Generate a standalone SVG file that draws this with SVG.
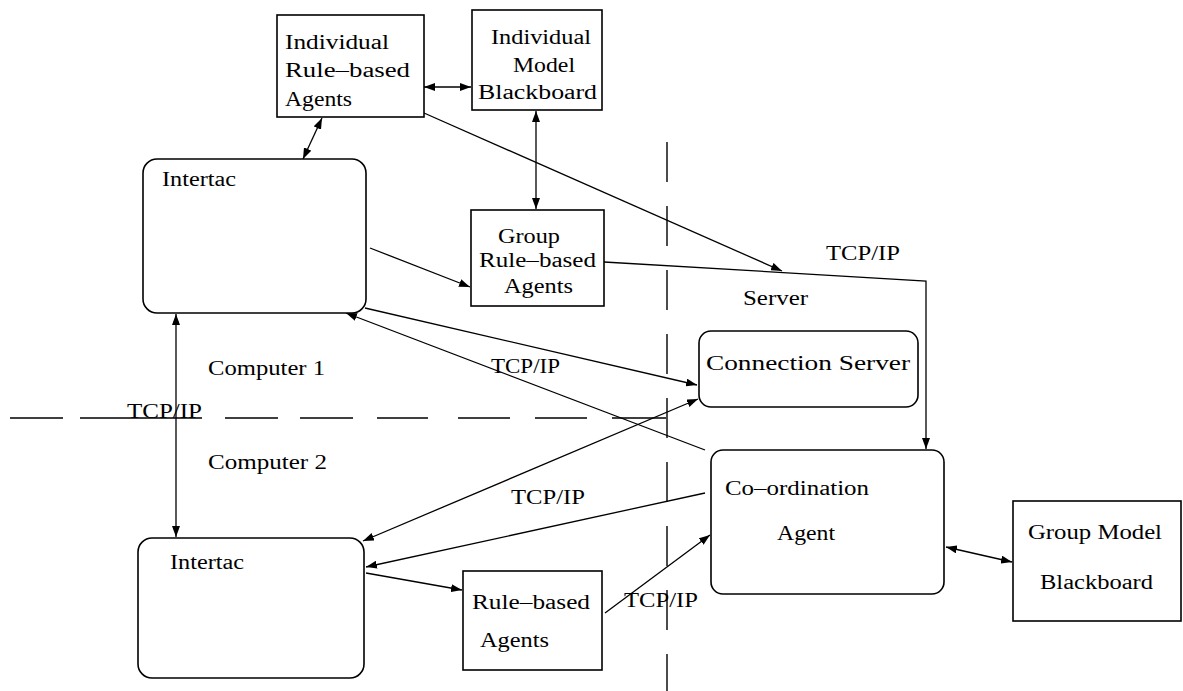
<svg xmlns="http://www.w3.org/2000/svg" width="1183" height="691" viewBox="0 0 1183 691">
<defs>
<marker id="ah" markerUnits="userSpaceOnUse" markerWidth="11" markerHeight="8" refX="11" refY="4" orient="auto-start-reverse">
<path d="M0,0 L11,4 L0,8 z" fill="#000"/>
</marker>
<style>
.box{fill:#fff;stroke:#000;stroke-width:1.6}
.ln{fill:none;stroke:#000;stroke-width:1.3}
.dash{fill:none;stroke:#000;stroke-width:1.4}
text{font-family:"Liberation Serif","Times New Roman",serif;font-size:20px;fill:#000}
</style>
</defs>
<rect width="1183" height="691" fill="#fff"/>

<g id="separators">
<line class="dash" x1="667" y1="142" x2="667" y2="691" stroke-dasharray="40 24"/>
<path class="dash" d="M10,418 H63 M80,418 H202 M225,418 H278 M300,418 H353 M377,418 H428 M458,418 H510 M535,418 H587 M612,418 H666"/>
</g>

<g id="connectors">
<line class="ln" x1="424" y1="87" x2="471" y2="87" marker-start="url(#ah)" marker-end="url(#ah)"/>
<line class="ln" x1="322" y1="118" x2="303" y2="159" marker-start="url(#ah)" marker-end="url(#ah)"/>
<line class="ln" x1="536" y1="111" x2="536" y2="209" marker-start="url(#ah)" marker-end="url(#ah)"/>
<line class="ln" x1="370" y1="248" x2="470" y2="287" marker-end="url(#ah)"/>
<line class="ln" x1="424" y1="113" x2="782" y2="271" marker-end="url(#ah)"/>
<polyline class="ln" points="604,262 926,281 926,449" marker-end="url(#ah)"/>
<line class="ln" x1="176" y1="314" x2="176" y2="537" marker-start="url(#ah)" marker-end="url(#ah)"/>
<line class="ln" x1="365" y1="308" x2="697" y2="385" marker-end="url(#ah)"/>
<line class="ln" x1="705" y1="450" x2="346" y2="313" marker-end="url(#ah)"/>
<line class="ln" x1="363" y1="541" x2="698" y2="399" marker-start="url(#ah)" marker-end="url(#ah)"/>
<line class="ln" x1="705" y1="493" x2="366" y2="567" marker-end="url(#ah)"/>
<line class="ln" x1="366" y1="573" x2="462" y2="590" marker-end="url(#ah)"/>
<line class="ln" x1="605" y1="613" x2="710" y2="535" marker-end="url(#ah)"/>
<line class="ln" x1="946" y1="547" x2="1012" y2="562" marker-start="url(#ah)" marker-end="url(#ah)"/>
</g>

<g id="individual-rule-based-agents">
<rect class="box" x="277" y="15" width="147" height="102"/>
<text x="285" y="49" textLength="104" lengthAdjust="spacingAndGlyphs">Individual</text>
<text x="285" y="77" textLength="125" lengthAdjust="spacingAndGlyphs">Rule–based</text>
<text x="285" y="106" textLength="67" lengthAdjust="spacingAndGlyphs">Agents</text>
</g>

<g id="individual-model-blackboard">
<rect class="box" x="472" y="10" width="130" height="100"/>
<text x="491" y="44" textLength="100" lengthAdjust="spacingAndGlyphs">Individual</text>
<text x="513" y="72" textLength="62" lengthAdjust="spacingAndGlyphs">Model</text>
<text x="478" y="99" textLength="119" lengthAdjust="spacingAndGlyphs">Blackboard</text>
</g>

<g id="intertac-1">
<rect class="box" x="143" y="159" width="223" height="154" rx="14"/>
<text x="162" y="186" textLength="74" lengthAdjust="spacingAndGlyphs">Intertac</text>
</g>

<g id="group-rule-based-agents">
<rect class="box" x="471" y="210" width="133" height="96"/>
<text x="498" y="243" textLength="62" lengthAdjust="spacingAndGlyphs">Group</text>
<text x="479" y="267" textLength="117" lengthAdjust="spacingAndGlyphs">Rule–based</text>
<text x="504" y="293" textLength="69" lengthAdjust="spacingAndGlyphs">Agents</text>
</g>

<g id="connection-server">
<rect class="box" x="699" y="331" width="219" height="76" rx="12"/>
<text x="706" y="370" textLength="204" lengthAdjust="spacingAndGlyphs">Connection Server</text>
</g>

<g id="coordination-agent">
<rect class="box" x="711" y="450" width="233" height="144" rx="12"/>
<text x="725" y="495" textLength="144" lengthAdjust="spacingAndGlyphs">Co–ordination</text>
<text x="777" y="540" textLength="58" lengthAdjust="spacingAndGlyphs">Agent</text>
</g>

<g id="intertac-2">
<rect class="box" x="138" y="538" width="226" height="140" rx="14"/>
<text x="170" y="569" textLength="74" lengthAdjust="spacingAndGlyphs">Intertac</text>
</g>

<g id="rule-based-agents">
<rect class="box" x="463" y="571" width="139" height="99"/>
<text x="472" y="609" textLength="118" lengthAdjust="spacingAndGlyphs">Rule–based</text>
<text x="480" y="647" textLength="69" lengthAdjust="spacingAndGlyphs">Agents</text>
</g>

<g id="group-model-blackboard">
<rect class="box" x="1013" y="501" width="168" height="120"/>
<text x="1028" y="539" textLength="134" lengthAdjust="spacingAndGlyphs">Group Model</text>
<text x="1040" y="589" textLength="113" lengthAdjust="spacingAndGlyphs">Blackboard</text>
</g>

<g id="labels">
<text x="826" y="260" textLength="74" lengthAdjust="spacingAndGlyphs">TCP/IP</text>
<text x="743" y="305" textLength="65" lengthAdjust="spacingAndGlyphs">Server</text>
<text x="208" y="375" textLength="117" lengthAdjust="spacingAndGlyphs">Computer 1</text>
<text x="491" y="373" textLength="69" lengthAdjust="spacingAndGlyphs">TCP/IP</text>
<text x="127" y="418" textLength="75" lengthAdjust="spacingAndGlyphs">TCP/IP</text>
<text x="208" y="469" textLength="119" lengthAdjust="spacingAndGlyphs">Computer 2</text>
<text x="511" y="504" textLength="74" lengthAdjust="spacingAndGlyphs">TCP/IP</text>
<text x="624" y="607" textLength="74" lengthAdjust="spacingAndGlyphs">TCP/IP</text>
</g>
</svg>
